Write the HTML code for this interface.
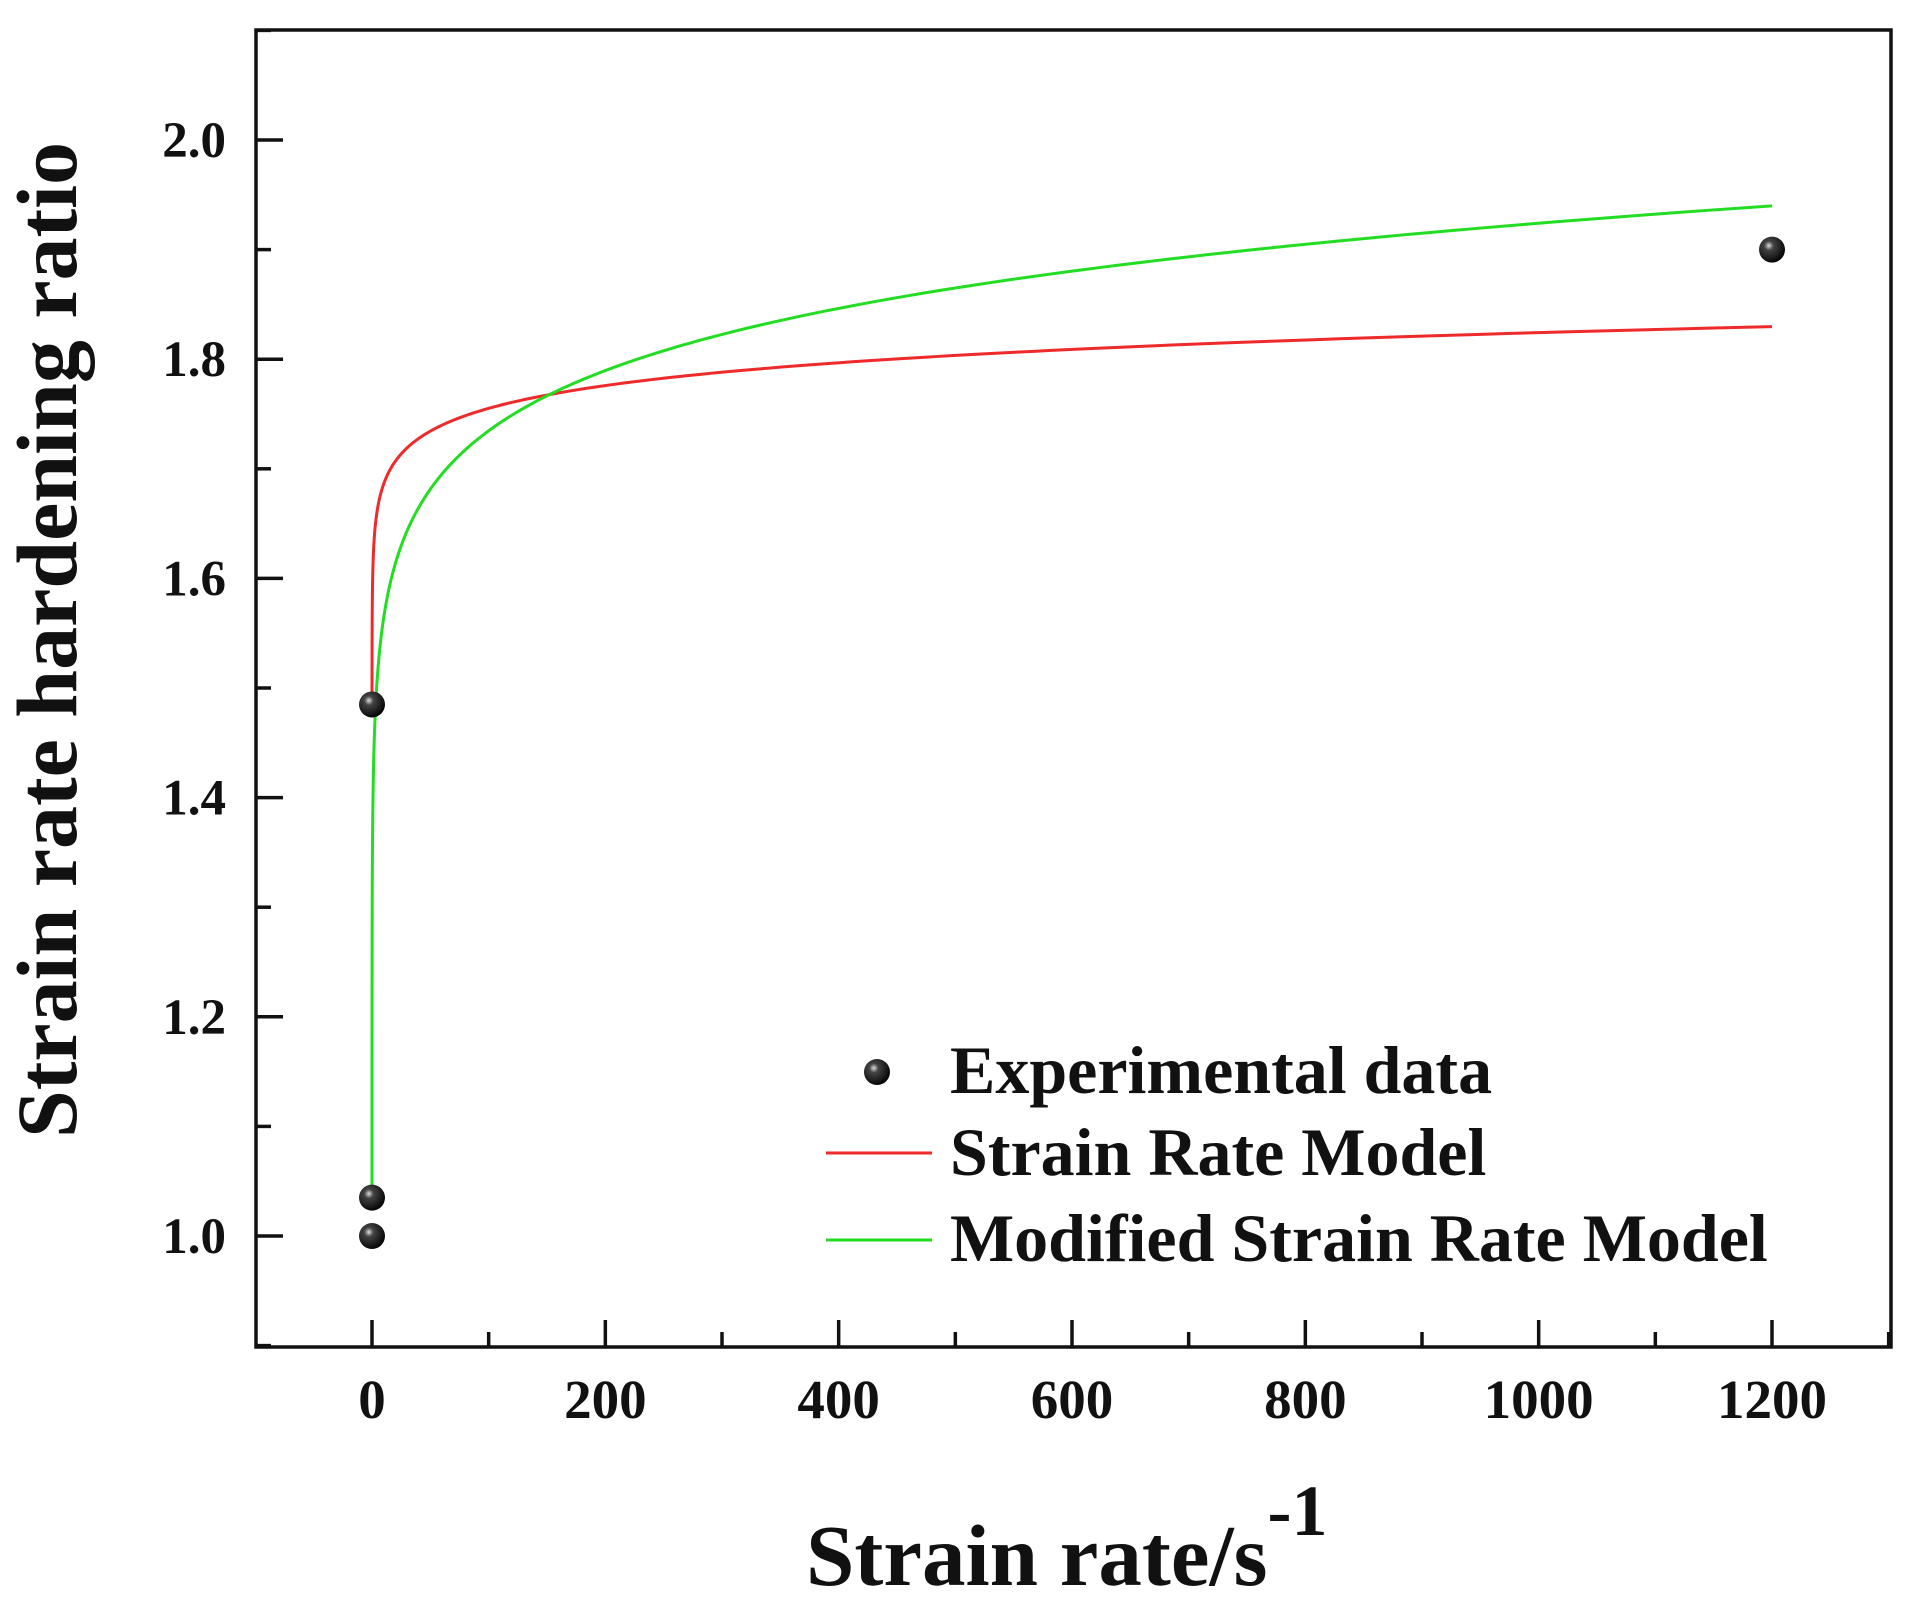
<!DOCTYPE html>
<html><head><meta charset="utf-8">
<style>
html,body{margin:0;padding:0;background:#fff;}
svg{display:block;}
text{font-family:"Liberation Serif",serif;font-weight:bold;fill:#111;}
</style></head>
<body>
<svg id="s" width="1910" height="1597" viewBox="0 0 1910 1597" xmlns="http://www.w3.org/2000/svg">
<defs>
<radialGradient id="ball" cx="0.38" cy="0.35" r="0.7">
<stop offset="0" stop-color="#ddd"/><stop offset="0.25" stop-color="#444"/><stop offset="1" stop-color="#000"/>
</radialGradient>
<clipPath id="clip"><rect x="256" y="30" width="1635" height="1317"/></clipPath>
</defs>
<rect x="256" y="30" width="1635" height="1317" fill="none" stroke="#111" stroke-width="3.5"/>
<g id="ticks" stroke="#111" stroke-width="3.5"></g>
<g id="labels"></g>
<g clip-path="url(#clip)">
<path id="red" fill="none" stroke="#ee2a2a" stroke-width="3"/>
<path id="green" fill="none" stroke="#22dd22" stroke-width="3"/>
</g>
<g id="pts"></g>
<circle cx="877" cy="1072" r="13" fill="url(#ball)"/>
<line x1="826" y1="1153" x2="932" y2="1153" stroke="#ee2a2a" stroke-width="3"/>
<line x1="826" y1="1240" x2="932" y2="1240" stroke="#22dd22" stroke-width="3"/>
<text x="950" y="1093" font-size="68">Experimental data</text>
<text x="950" y="1175" font-size="68">Strain Rate Model</text>
<text x="950" y="1261" font-size="68">Modified Strain Rate Model</text>
<text x="806" y="1585" font-size="87">Strain rate/s<tspan font-size="72" dy="-50">-1</tspan></text>
<text transform="translate(76,640) rotate(-90)" text-anchor="middle" font-size="86">Strain rate hardening ratio</text>
</svg>
<script>
var X=function(v){return 372+v*1.16667;};
var Y=function(v){return 1236-(v-1)*1096;};
var ns="http://www.w3.org/2000/svg";
var t=document.getElementById('ticks'),L=document.getElementById('labels');
function ln(x1,y1,x2,y2){var e=document.createElementNS(ns,'line');e.setAttribute('x1',x1);e.setAttribute('y1',y1);e.setAttribute('x2',x2);e.setAttribute('y2',y2);t.appendChild(e);}
function tx(x,y,s,a,fs){var e=document.createElementNS(ns,'text');e.setAttribute('x',x);e.setAttribute('y',y);e.setAttribute('text-anchor',a);e.setAttribute('font-size',fs);e.textContent=s;L.appendChild(e);}
for(var v=0;v<=1300;v+=100){var x=X(v);var maj=(v%200==0);ln(x,1347,x,1347-(maj?27:15));if(maj)tx(x,1418,String(v),'middle',55);}
for(var i=9;i<=21;i++){var y=Y(i/10);var maj=(i%2==0);ln(256,y,256+(maj?27:15),y);if(maj)tx(226,y+17,(i/10).toFixed(1),'end',51);}
var r='',g='';
for(var k=0;k<=600;k++){var x=Math.pow(10,-3+k*(Math.log10(1200)+3)/600);
 var yr=1.617+0.030*Math.log(x); if(yr>=1.488){r+=(r?'L':'M')+X(x).toFixed(2)+' '+Y(yr).toFixed(2);}
 var yg=1.41*Math.pow(x,0.045); g+=(g?'L':'M')+X(x).toFixed(2)+' '+Y(yg).toFixed(2);}
document.getElementById('red').setAttribute('d',r);
document.getElementById('green').setAttribute('d',g);
var P=document.getElementById('pts');
[[0,1.0],[0,1.035],[0,1.485],[1200,1.9]].forEach(function(p){var c=document.createElementNS(ns,'circle');c.setAttribute('cx',X(p[0]));c.setAttribute('cy',Y(p[1]));c.setAttribute('r',13);c.setAttribute('fill','url(#ball)');P.appendChild(c);});
</script>
</body></html>
